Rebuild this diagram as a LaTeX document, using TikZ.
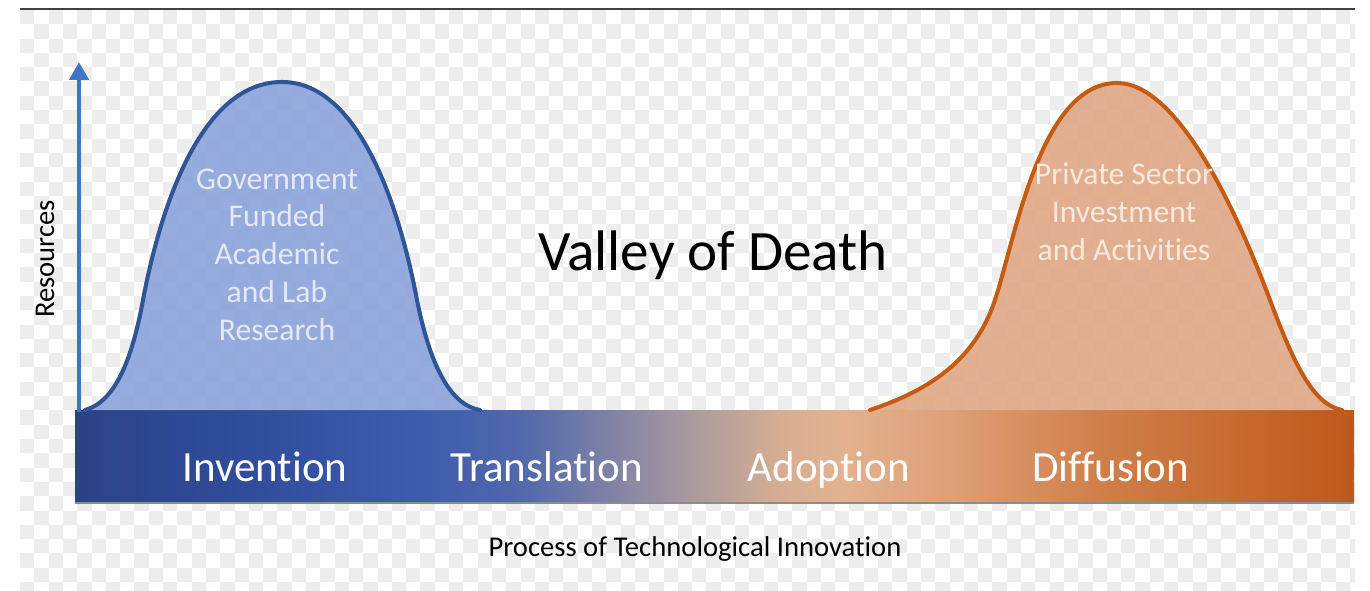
\documentclass[tikz,border=0pt]{standalone}
\usepackage{fontspec}
\setmainfont{Carlito}[Ligatures=NoCommon]
\usepackage{xcolor}
\usetikzlibrary{arrows.meta,positioning,calc}

\definecolor{axisblue}{HTML}{4472C4}
\definecolor{bellblue}{HTML}{8DA5DC}
\definecolor{edgeblue}{HTML}{2F5597}
\definecolor{bellorange}{HTML}{DFA987}
\definecolor{edgeorange}{HTML}{C55A11}
\definecolor{checkgray}{HTML}{EDEDED}
\definecolor{govtext}{HTML}{E3E9F7}
\definecolor{privtext}{HTML}{F9E8DC}
\definecolor{barA}{HTML}{2A4287}
\definecolor{barB}{HTML}{304D9B}
\definecolor{barC}{HTML}{3D5CAD}
\definecolor{barD}{HTML}{5068AC}
\definecolor{barE}{HTML}{7A7FA6}
\definecolor{barF}{HTML}{A99A9E}
\definecolor{barG}{HTML}{D5AE92}
\definecolor{barH}{HTML}{E2B290}
\definecolor{barI}{HTML}{DDA078}
\definecolor{barJ}{HTML}{D07F4A}
\definecolor{barK}{HTML}{BF581A}

\pgfdeclarehorizontalshading{valley}{100bp}{
  color(0bp)=(barA); color(25bp)=(barA); color(31.84bp)=(barB);
  color(38.49bp)=(barC); color(42.40bp)=(barD); color(45.52bp)=(barE);
  color(49.04bp)=(barF); color(52.56bp)=(barG); color(54.91bp)=(barH);
  color(59.21bp)=(barI); color(65.07bp)=(barJ); color(75bp)=(barK);
  color(100bp)=(barK)}

\tikzset{
	stage/.style={text=white, inner sep=0pt, text height=18pt, text depth=5pt,
			font=\fontsize{24.5}{29}\selectfont},
	bellnote/.style={align=center, inner sep=0pt, font=\fontsize{18}{21.5}\selectfont},
	bell/.style={line width=2.3pt, line join=round, line cap=round},
	axis/.style={axisblue, line width=2.6pt, -{Triangle[width=10.8pt,length=10.2pt]}}
}

\begin{document}
\begin{tikzpicture}[
    x=0.02cm, y=-0.02cm,
    node distance=5.64cm
]
\useasboundingbox (0,0) rectangle (1370,591);

% Background
\begin{scope}
\clip (20,10) rectangle (1355,591);
\foreach \i in {0,...,93} {
  \foreach \j in {0,...,40} {
    \pgfmathtruncatemacro\k{\i+\j}
    \ifodd\k\relax\else
      \fill[checkgray] ({20+14.3*\i},{10+14.3*\j}) rectangle +(14.3,14.3);
    \fi
  }
}
\end{scope}
\draw[black!75, line width=0.6pt] (20,9) -- (1355,9);

% Bar
\shade[shading=valley] (75,410) rectangle (1354,503);
\draw[black!45, line width=0.6pt] (75,503) -- (1354,503);

% Curves
\fill[bellblue, opacity=.92] (85,410) .. controls (115,402) and (132,360) .. (143,300)
  .. controls (160,210) and (200,82) .. (282,82)
  .. controls (360,82) and (400,210) .. (417,300)
  .. controls (430,365) and (450,405) .. (480,410) -- cycle;
\draw[bell, edgeblue] (85,410) .. controls (115,402) and (132,360) .. (143,300)
  .. controls (160,210) and (200,82) .. (282,82)
  .. controls (360,82) and (400,210) .. (417,300)
  .. controls (430,365) and (450,405) .. (480,410);

\fill[bellorange, opacity=.92] (870,410) .. controls (930,390) and (975,360) .. (995,300)
  .. controls (1015,240) and (1040,83) .. (1117,83)
  .. controls (1180,83) and (1240,220) .. (1270,300)
  .. controls (1296,370) and (1315,405) .. (1342,410) -- cycle;
\draw[bell, edgeorange] (870,410) .. controls (930,390) and (975,360) .. (995,300)
  .. controls (1015,240) and (1040,83) .. (1117,83)
  .. controls (1180,83) and (1240,220) .. (1270,300)
  .. controls (1296,370) and (1315,405) .. (1342,410);

% Axis
\coordinate (origin) at (79,412);
\coordinate (top) at (79,62);
\draw[axis] (origin) -- (top);

% Nodes
\node[stage] (invention) at (265,470.5) {Invention};
\node[stage, right of=invention] (translation) {Translation};
\node[stage, right of=translation] (adoption) {Adoption};
\node[stage, right of=adoption] (diffusion) {Diffusion};

\node[bellnote, text=govtext] (government) at (277,254.5) {Government\\Funded\\Academic\\and Lab\\Research};
\node[bellnote, text=privtext] (private) at (1124,211.5) {Private Sector\\Investment\\and Activities};

\node[anchor=base, font=\fontsize{32.5}{39}\selectfont] (valley) at (713,271) {Valley of Death};
\node[anchor=base, font=\fontsize{16.3}{19}\selectfont] (process) at (695,556) {Process of Technological Innovation};
\node[anchor=base, rotate=90, font=\fontsize{16.3}{19}\selectfont] (resources) at (54,259) {Resources};

\end{tikzpicture}
\end{document}
